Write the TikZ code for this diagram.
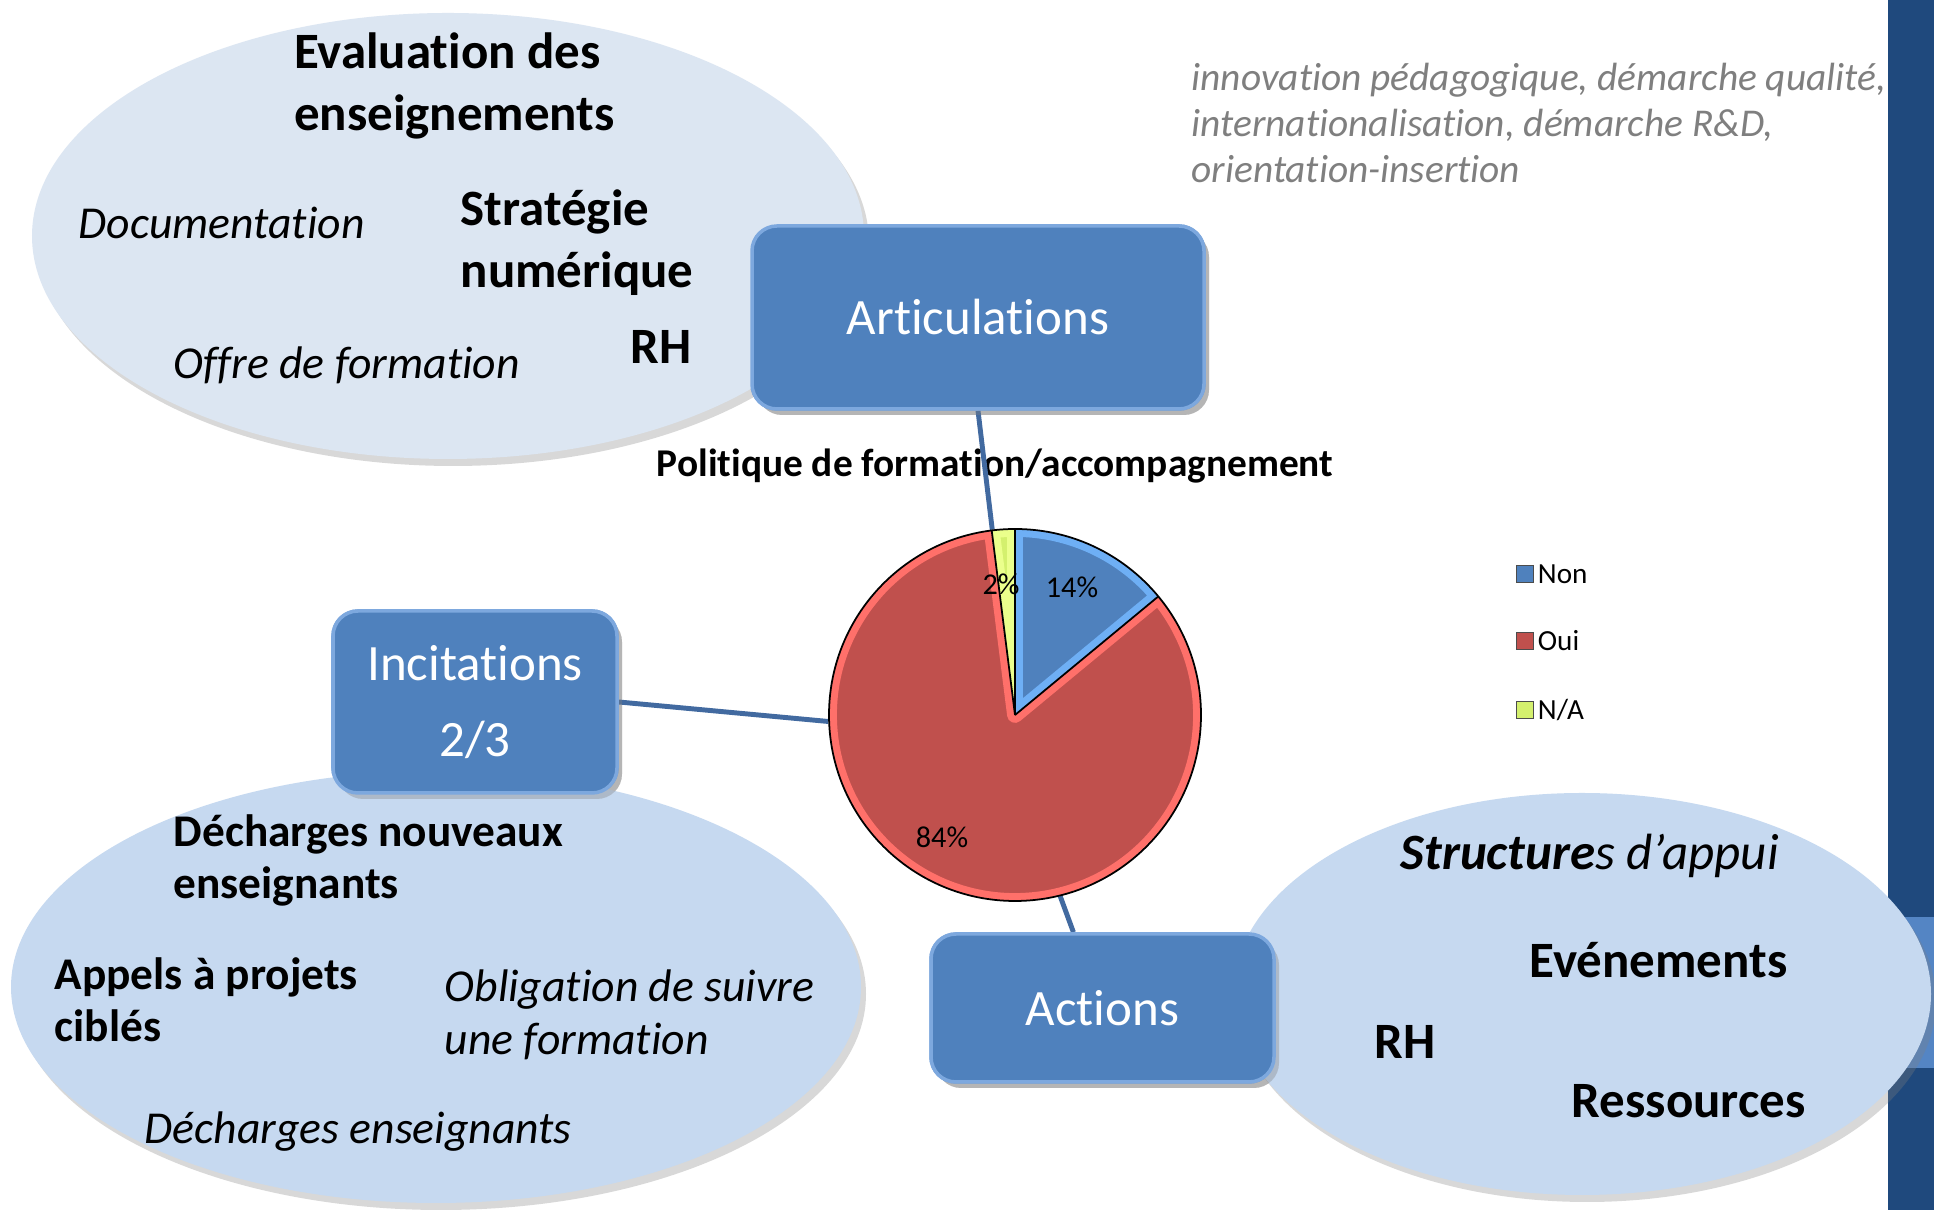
\documentclass[tikz,border=0pt]{standalone}
\usepackage{fontspec}
\setmainfont{Carlito}[Ligatures=NoCommon]
\usepackage{tikz}
\usetikzlibrary{positioning,shadows}

\definecolor{barblue}{RGB}{31,73,125}
\definecolor{bandblue}{RGB}{84,133,196}
\definecolor{ellTop}{RGB}{220,230,242}
\definecolor{ellBot}{RGB}{198,217,240}
\definecolor{hubblue}{RGB}{79,129,189}
\definecolor{hubedge}{RGB}{125,168,222}
\definecolor{linkblue}{RGB}{66,106,160}
\definecolor{noteGray}{RGB}{127,127,127}
\definecolor{pieNon}{RGB}{79,129,189}
\definecolor{pieNonL}{RGB}{110,175,245}
\definecolor{pieOui}{RGB}{192,80,77}
\definecolor{pieOuiL}{RGB}{255,112,106}
\definecolor{pieNA}{RGB}{212,240,110}
\definecolor{pieNAL}{RGB}{235,255,140}

\pgfdeclareradialshading{slidebg}{\pgfpoint{0bp}{0bp}}{%
  color(0bp)=(white); color(30bp)=(white); color(52bp)=(black!11); color(70bp)=(black!14)}

\tikzset{
  bubshadow/.style={drop shadow={opacity=0.3, shadow xshift=0.05cm, shadow yshift=-0.07cm}},
  hub/.style={rounded corners=0.25cm, fill=hubblue, draw=hubedge, line width=1pt, text=white,
    align=center, inner sep=0pt, font=\fontsize{14.5}{21.6}\selectfont,
    drop shadow={opacity=0.35, shadow xshift=0.05cm, shadow yshift=-0.06cm}},
  itembf/.style={anchor=west, align=left, inner sep=0pt, font=\fontsize{14.5}{17.6}\selectfont\bfseries},
  itemsm/.style={itembf, font=\fontsize{12.9}{14.8}\selectfont\bfseries},
  itemit/.style={anchor=west, align=left, inner sep=0pt, font=\fontsize{13}{15.1}\selectfont\itshape},
  link/.style={draw=linkblue, line width=1.4pt},
  pctlabel/.style={inner sep=0pt, font=\fontsize{8.6}{10}\selectfont},
  legbox/.style={draw=black!70, line width=0.4pt, minimum size=0.17cm, inner sep=0pt},
  legtxt/.style={inner sep=0pt, font=\fontsize{8.3}{10}\selectfont}
}

\begin{document}
\begin{tikzpicture}
    % Background
    \useasboundingbox (0,0) rectangle (19.34,12.10);
    \shade[shading=slidebg] (-1.5,-2.5) rectangle (19.5,16.5);

    % Note at the top right
    \node[anchor=west, align=left, inner sep=0pt, text=noteGray,
          font=\fontsize{11.2}{13.1}\selectfont\itshape] (innov) at (11.91,10.87)
        {innovation pédagogique, démarche qualité,\\
         internationalisation, démarche R\&D,\\
         orientation-insertion};

    % Side bar
    \fill[barblue] (18.88,0) rectangle (19.34,12.10);
    \fill[bandblue] (18.88,1.42) rectangle (19.34,2.93);

    % Pie chart
    \node[circle, minimum size=3.72cm, inner sep=0pt] (pie) at (10.15,4.95) {};
    \node[font=\fontsize{11.2}{13}\selectfont\bfseries, inner sep=0pt] (title) at (9.95,7.44)
        {Politique de formation/accompagnement};

    % Connectors
    \node[hub, minimum width=4.52cm, minimum height=1.83cm] (artic) at (9.78,8.925) {Articulations};
    \node[hub, minimum width=2.84cm, minimum height=1.82cm] (incit) at (4.75,5.08) {Incitations\\2/3};
    \node[hub, minimum width=3.43cm, minimum height=1.48cm] (actions) at (11.025,2.02) {Actions};
    \draw[link] (artic.south) -- (pie.97);
    \draw[link] (incit.east) -- (pie.182);
    \draw[link] (pie.-76) -- (actions.111);

    \foreach \from/\to/\fc/\lc in {39.6/90/pieNon/pieNonL, 90/97.2/pieNA/pieNAL, 97.2/399.6/pieOui/pieOuiL} {
        \begin{scope}
            \clip (pie.center) -- ++(\from:1.86) arc[start angle=\from, end angle=\to, radius=1.86] -- cycle;
            \filldraw[fill=\fc, draw=\lc, line width=4.5pt, line join=round]
                (pie.center) -- ++(\from:1.86) arc[start angle=\from, end angle=\to, radius=1.86] -- cycle;
        \end{scope}
    }
    \draw[black, line width=0.5pt] (pie.center) circle (1.86);
    \foreach \a in {39.6,90,97.2}
        \draw[black, line width=0.5pt] (pie.center) -- ++(\a:1.86);

    \node[pctlabel] (p14) at (10.72,6.23) {14\%};
    \node[pctlabel] (p2) at (10.01,6.26) {2\%};
    \node[pctlabel] (p84) at (9.42,3.73) {84\%};

    % Legend
    \foreach \y/\c/\t [count=\i] in {6.36/pieNon/Non, 5.69/pieOui/Oui, 5.00/pieNA/{N/A}} {
        \node[legbox, fill=\c] (legbox\i) at (15.25,\y) {};
        \node[legtxt, anchor=west, right=0.03cm of legbox\i] (leg\i) {\t};
    }

    % Top left bubble
    \fill[ellTop, bubshadow] (4.48,9.74) ellipse (4.16 and 2.23);
    \node[itembf] (eval) at (2.935,11.24) {Evaluation des\\enseignements};
    \node[itemit] (doc) at (0.78,9.87) {Documentation};
    \node[itembf] (strat) at (4.60,9.67) {Stratégie\\numérique};
    \node[itembf] (rhA) at (6.30,8.63) {RH};
    \node[itemit] (offre) at (1.73,8.45) {Offre de formation};

    % Bottom left bubble
    \fill[ellBot, bubshadow] (4.36,2.23) ellipse (4.25 and 2.16);
    \node[itemsm] (decnouv) at (1.73,3.50) {Décharges nouveaux\\enseignants};
    \node[itemsm] (appels) at (0.54,2.10) {Appels à projets\\ciblés};
    \node[itemit] (oblig) at (4.44,1.955) {Obligation de suivre\\une formation};
    \node[itemit] (decens) at (1.44,0.78) {Décharges enseignants};

    % Bottom right bubble
    \fill[ellBot, bubshadow] (15.82,2.16) ellipse (3.49 and 2.01);
    \node[itemit, font=\fontsize{14.5}{17.6}\selectfont\itshape] (struct) at (14.00,3.54)
        {{\bfseries Structure}s d’appui};
    \node[itembf] (even) at (15.29,2.50) {Evénements};
    \node[itembf] (rhB) at (13.74,1.68) {RH};
    \node[itembf] (ress) at (15.71,1.09) {Ressources};

    % Boxes on top of the bubbles
    \node[hub, minimum width=4.52cm, minimum height=1.83cm] at (artic) {Articulations};
    \node[hub, minimum width=2.84cm, minimum height=1.82cm] at (incit) {Incitations\\2/3};
    \node[hub, minimum width=3.43cm, minimum height=1.48cm] at (actions) {Actions};
\end{tikzpicture}
\end{document}
